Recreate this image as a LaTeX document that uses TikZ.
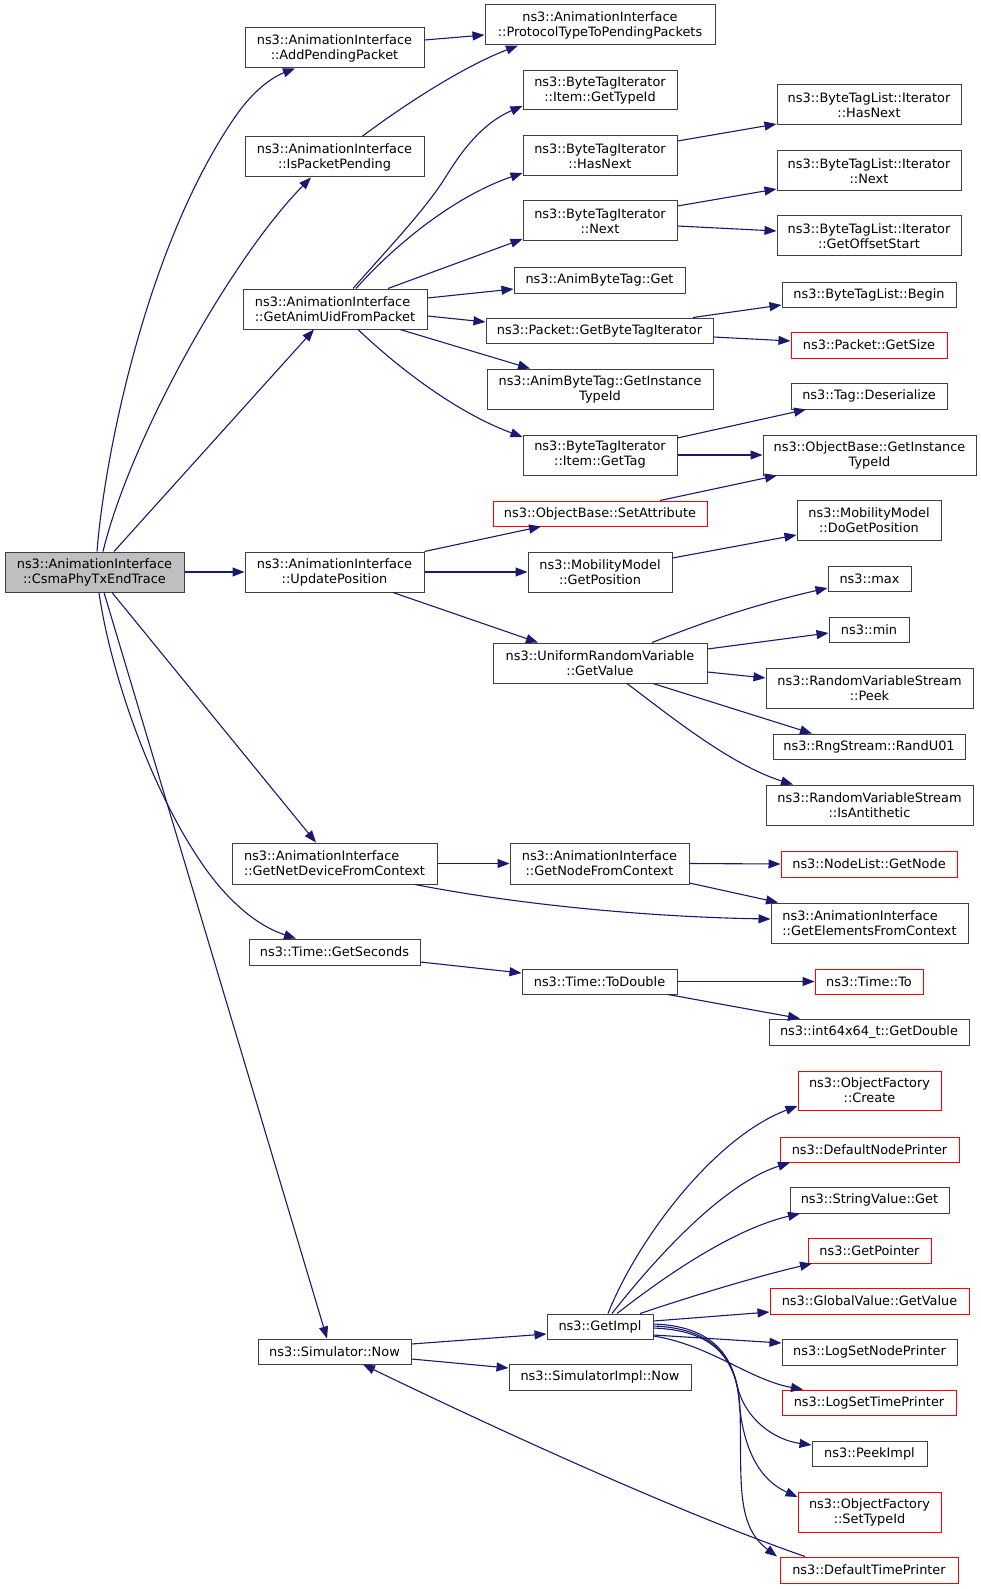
\documentclass[tikz,border=0pt]{standalone}
\usepackage{fontspec}
\newfontfamily\dvs{DejaVu Sans}
\usetikzlibrary{arrows.meta}
\definecolor{edgeblue}{HTML}{191970}
\definecolor{boxgray}{HTML}{404040}
\definecolor{rootfill}{HTML}{BFBFBF}
\tikzset{
  box/.style={draw=boxgray, line width=1pt, fill=white, inner sep=0pt, align=center,
    font=\dvs\fontsize{12.9}{15}\selectfont, text=black},
  lbox/.style={box, align=left},
  redbox/.style={box, draw=red},
  rootbox/.style={box, fill=rootfill},
  edge/.style={draw=edgeblue, line width=1.1pt, -{Triangle[length=12pt,width=9pt]}, fill=none},
}
\newcommand\nd[7]{\node[#1, minimum width={(#5-#3)*1pt}, minimum height={(#6-#4)*1pt}] (#2) at ({(#3+#5)/2},{(#4+#6)/2}) {#7};}
\begin{document}
\begin{tikzpicture}[x=1pt,y=-1pt]
\useasboundingbox[fill=white] (0,0) rectangle (981,1589);
% column 1
\nd{rootbox}{root}{5}{552}{184}{592}{ns3::AnimationInterface\\::CsmaPhyTxEndTrace}
% column 2
\nd{box}{addpend}{245}{28}{424}{68}{ns3::AnimationInterface\\::AddPendingPacket}
\nd{box}{ispend}{245}{137}{424}{177}{ns3::AnimationInterface\\::IsPacketPending}
\nd{lbox}{getanim}{243}{289}{427}{329}{ns3::AnimationInterface\\::GetAnimUidFromPacket}
\nd{box}{updpos}{245}{552}{424}{592}{ns3::AnimationInterface\\::UpdatePosition}
\nd{lbox}{getnetdev}{232}{843}{437}{884}{ns3::AnimationInterface\\::GetNetDeviceFromContext}
\nd{box}{getsec}{249}{939}{420}{965}{ns3::Time::GetSeconds}
\nd{box}{simnow}{258}{1339}{411}{1364}{ns3::Simulator::Now}
% column 3
\nd{box}{proto}{485}{5}{715}{45}{ns3::AnimationInterface\\::ProtocolTypeToPendingPackets}
\nd{box}{btitid}{523}{71}{677}{110}{ns3::ByteTagIterator\\::Item::GetTypeId}
\nd{box}{btihn}{523}{136}{677}{176}{ns3::ByteTagIterator\\::HasNext}
\nd{box}{btinx}{523}{201}{677}{241}{ns3::ByteTagIterator\\::Next}
\nd{box}{abtget}{514}{267}{685}{293}{ns3::AnimByteTag::Get}
\nd{box}{pktbti}{486}{318}{713}{343}{ns3::Packet::GetByteTagIterator}
\nd{box}{abtgit}{487}{369}{713}{409}{ns3::AnimByteTag::GetInstance\\TypeId}
\nd{box}{btitag}{523}{435}{677}{475}{ns3::ByteTagIterator\\::Item::GetTag}
\nd{redbox}{setattr}{493}{501}{707}{526}{ns3::ObjectBase::SetAttribute}
\nd{box}{mmgp}{528}{552}{672}{592}{ns3::MobilityModel\\::GetPosition}
\nd{box}{urv}{493}{643}{707}{683}{ns3::UniformRandomVariable\\::GetValue}
\nd{box}{getnfc}{510}{843}{689}{884}{ns3::AnimationInterface\\::GetNodeFromContext}
\nd{box}{todbl}{522}{969}{677}{994}{ns3::Time::ToDouble}
\nd{box}{getimpl}{547}{1314}{653}{1339}{ns3::GetImpl}
\nd{box}{simimpl}{509}{1364}{691}{1390}{ns3::SimulatorImpl::Now}
% column 4
\nd{box}{btlhn}{777}{85}{961}{125}{ns3::ByteTagList::Iterator\\::HasNext}
\nd{box}{btlnx}{777}{151}{961}{191}{ns3::ByteTagList::Iterator\\::Next}
\nd{box}{btlgos}{777}{216}{961}{256}{ns3::ByteTagList::Iterator\\::GetOffsetStart}
\nd{box}{btlbeg}{782}{282}{956}{307}{ns3::ByteTagList::Begin}
\nd{redbox}{pktsize}{791}{332}{947}{358}{ns3::Packet::GetSize}
\nd{box}{tagdes}{791}{383}{947}{409}{ns3::Tag::Deserialize}
\nd{box}{obgit}{763}{435}{976}{475}{ns3::ObjectBase::GetInstance\\TypeId}
\nd{box}{mmdgp}{797}{500}{941}{540}{ns3::MobilityModel\\::DoGetPosition}
\nd{box}{nmax}{828}{566}{911}{591}{ns3::max}
\nd{box}{nmin}{829}{617}{909}{642}{ns3::min}
\nd{box}{rvspeek}{766}{668}{973}{708}{ns3::RandomVariableStream\\::Peek}
\nd{box}{randu}{773}{734}{965}{759}{ns3::RngStream::RandU01}
\nd{box}{isanti}{766}{785}{973}{825}{ns3::RandomVariableStream\\::IsAntithetic}
\nd{redbox}{nlgn}{781}{851}{957}{877}{ns3::NodeList::GetNode}
\nd{lbox}{getelem}{771}{903}{968}{943}{ns3::AnimationInterface\\::GetElementsFromContext}
\nd{redbox}{timeto}{815}{969}{923}{994}{ns3::Time::To}
\nd{box}{getdbl}{769}{1019}{969}{1045}{ns3::int64x64\_t::GetDouble}
\nd{redbox}{ofcreate}{798}{1071}{941}{1110}{ns3::ObjectFactory\\::Create}
\nd{redbox}{defnp}{780}{1137}{959}{1162}{ns3::DefaultNodePrinter}
\nd{box}{strget}{790}{1187}{949}{1213}{ns3::StringValue::Get}
\nd{redbox}{getptr}{808}{1238}{931}{1263}{ns3::GetPointer}
\nd{redbox}{gvget}{770}{1288}{969}{1314}{ns3::GlobalValue::GetValue}
\nd{box}{logsnp}{782}{1339}{957}{1365}{ns3::LogSetNodePrinter}
\nd{redbox}{logstp}{782}{1390}{956}{1415}{ns3::LogSetTimePrinter}
\nd{box}{peekimpl}{812}{1441}{927}{1466}{ns3::PeekImpl}
\nd{redbox}{ofstid}{798}{1492}{941}{1532}{ns3::ObjectFactory\\::SetTypeId}
\nd{redbox}{deftp}{780}{1557}{958}{1583}{ns3::DefaultTimePrinter}
% edges from root
\draw[edge] (root.north -| 97,0) .. controls (104,460) and (145,250) .. (233,120) .. controls (250,94) and (270,78) .. (addpend.south -| 295,0);
\draw[edge] (root.north -| 103,0) .. controls (130,440) and (230,260) .. (ispend.south -| 311,0);
\draw[edge] (root.north -| 114,0) -- (getanim.south -| 314,0);
\draw[edge] (root.east) -- (updpos.west);
\draw[edge] (root.south -| 112,0) -- (getnetdev.north -| 316,0);
\draw[edge] (root.south -| 99,0) .. controls (110,670) and (150,790) .. (205,868) .. controls (230,903) and (258,926) .. (getsec.north -| 296,0);
\draw[edge] (root.south -| 104,0) -- (simnow.north -| 327,0);
% column 2 edges
\draw[edge] (addpend.east |- 0,40) -- (proto.west |- 0,35);
\draw[edge] (ispend.north -| 362,0) .. controls (400,108) and (460,68) .. (proto.south -| 518,0);
\draw[edge] (getanim.north -| 353,0) .. controls (385,252) and (425,210) .. (445,178) .. controls (457,159) and (478,125) .. (btitid.west |- 0,106);
\draw[edge] (getanim.north -| 356,0) .. controls (390,250) and (450,198) .. (btihn.west |- 0,173);
\draw[edge] (getanim.north -| 388,0) -- (btinx.west |- 0,239);
\draw[edge] (getanim.east |- 0,298) -- (abtget.west |- 0,289);
\draw[edge] (getanim.east |- 0,316) -- (pktbti.west |- 0,322);
\draw[edge] (getanim.south -| 400,0) -- (abtgit.north -| 530,0);
\draw[edge] (getanim.south -| 358,0) .. controls (390,360) and (450,410) .. (btitag.west |- 0,437);
\draw[edge] (updpos.north east) -- (setattr.south -| 541,0);
\draw[edge] (updpos.east) -- (mmgp.west);
\draw[edge] (updpos.south -| 393,0) -- (urv.north -| 538,0);
\draw[edge] (getnetdev.east) -- (getnfc.west);
\draw[edge] (getnetdev.south -| 415,0) .. controls (520,905) and (650,917) .. (getelem.west |- 0,919);
\draw[edge] (getsec.east |- 0,962) -- (todbl.west |- 0,973);
\draw[edge] (simnow.east |- 0,1344) -- (getimpl.west |- 0,1334);
\draw[edge] (simnow.east |- 0,1359) -- (simimpl.west |- 0,1368);
% column 3 edges
\draw[edge] (pktbti.north -| 693,0) -- (btlbeg.west |- 0,305);
\draw[edge] (pktbti.east |- 0,337) -- (pktsize.west |- 0,341);
\draw[edge] (btihn.east |- 0,141) -- (btlhn.west |- 0,124);
\draw[edge] (btinx.east |- 0,206) -- (btlnx.west |- 0,189);
\draw[edge] (btinx.east |- 0,226) -- (btlgos.west |- 0,231);
\draw[edge] (btitag.east |- 0,438) -- (tagdes.south -| 806,0);
\draw[edge] (btitag.east |- 0,455) -- (obgit.west |- 0,455);
\draw[edge] (setattr.north -| 660,0) -- (obgit.south -| 777,0);
\draw[edge] (mmgp.east |- 0,558) -- (mmdgp.west |- 0,535);
\draw[edge] (urv.north -| 652,0) .. controls (690,628) and (740,608) .. (nmax.west |- 0,588);
\draw[edge] (urv.east |- 0,649) -- (nmin.west |- 0,633);
\draw[edge] (urv.east |- 0,672) -- (rvspeek.west |- 0,678);
\draw[edge] (urv.south -| 653,0) -- (randu.north -| 812,0);
\draw[edge] (urv.south -| 627,0) .. controls (665,712) and (730,765) .. (isanti.north -| 793,0);
\draw[edge] (getnfc.east) -- (nlgn.west);
\draw[edge] (getnfc.east |- 0,883) -- (getelem.north -| 778,0);
\draw[edge] (todbl.east) -- (timeto.west);
\draw[edge] (todbl.south -| 668,0) -- (getdbl.north -| 800,0);
\draw[edge] (deftp.north -| 805,0) .. controls (700,1520) and (540,1450) .. (simnow.south -| 363,0);
% GetImpl fan
\draw[edge] (getimpl.north -| 608,0) .. controls (638,1238) and (715,1137) .. (ofcreate.west |- 0,1106);
\draw[edge] (getimpl.north -| 612,0) .. controls (650,1265) and (720,1185) .. (defnp.south -| 790,0);
\draw[edge] (getimpl.north -| 617,0) .. controls (660,1280) and (730,1230) .. (strget.south -| 800,0);
\draw[edge] (getimpl.north -| 640,0) .. controls (680,1300) and (750,1278) .. (getptr.south -| 812,0);
\draw[edge] (getimpl.east |- 0,1321) -- (gvget.west |- 0,1312);
\draw[edge] (getimpl.east |- 0,1335) -- (logsnp.west |- 0,1343);
\draw[edge] (getimpl.east |- 0,1336) .. controls (710,1345) and (750,1380) .. (logstp.north -| 803,0);
\draw[edge] (getimpl.east |- 0,1328) .. controls (705,1330) and (728,1350) .. (737,1385) .. controls (745,1420) and (775,1440) .. (peekimpl.west |- 0,1445);
\draw[edge] (getimpl.east |- 0,1326) .. controls (710,1328) and (735,1355) .. (739,1400) .. controls (743,1450) and (760,1480) .. (ofstid.west |- 0,1497);
\draw[edge] (getimpl.east |- 0,1324) .. controls (712,1326) and (738,1355) .. (740,1410) .. controls (742,1480) and (735,1525) .. (deftp.north -| 777,0);
\end{tikzpicture}
\end{document}
